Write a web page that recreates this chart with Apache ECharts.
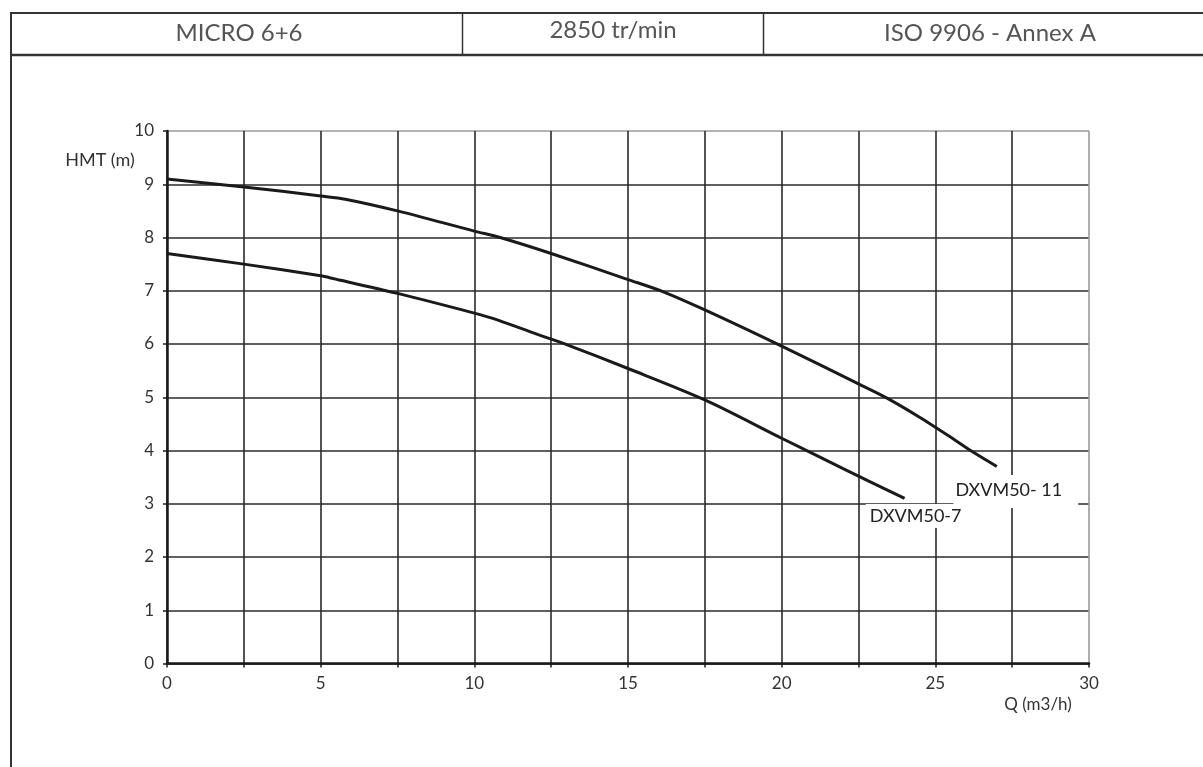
<!DOCTYPE html>
<html>
<head>
<meta charset="utf-8">
<script src="https://cdn.jsdelivr.net/npm/echarts@6/dist/echarts.min.js"></script>
<style>html,body{margin:0;padding:0;background:#fff}#c{width:1203px;height:767px}</style>
</head>
<body>
<div id="c"></div>
<script>
// ---- data ----
const headerTexts = ['MICRO 6+6', '2850 tr/min', 'ISO 9906 - Annex A'];
const seriesNames = ['DXVM50- 11', 'DXVM50-7'];
const q11 = [0, 2.5, 5, 5.8, 7.5, 10, 10.84, 12.5, 15, 16.15, 17.5, 20, 22.5, 23.5, 24.5, 25.5, 26.2, 27];
const h11 = [9.1, 8.95, 8.78, 8.72, 8.5, 8.12, 8.0, 7.7, 7.21, 6.98, 6.64, 5.96, 5.25, 4.96, 4.62, 4.25, 3.98, 3.7];
const q7 = [0, 2.5, 5, 5.4, 7.5, 10, 10.6, 12.5, 13, 15, 17.5, 20, 22, 24];
const h7 = [7.7, 7.5, 7.28, 7.23, 6.95, 6.58, 6.48, 6.09, 5.99, 5.54, 4.95, 4.23, 3.66, 3.1];
const xLabelValues = [0, 5, 10, 15, 20, 25, 30];
const yAxisName = 'HMT (m)';
const xAxisName = 'Q (m3/h)';

const FONT = 'Lato, "Noto Sans", sans-serif';
const chart = echarts.init(document.getElementById('c'), null, {renderer: 'canvas'});

function pairs(xs, ys) { return xs.map((x, i) => [x, ys[i]]); }

const yColors = []; for (let i = 0; i <= 10; i++) yColors.push(i === 10 ? '#9a9a9a' : '#2a2a2a');
const xColors = []; for (let i = 0; i <= 12; i++) xColors.push(i === 12 ? '#9a9a9a' : '#2a2a2a');

function lineSeries(name, xs, ys, offset, padding) {
  return {
    name: name, type: 'line', smooth: 0.3, showSymbol: false, symbol: 'none',
    lineStyle: {color: '#1a1a1a', width: 3}, z: 3,
    data: pairs(xs, ys),
    markPoint: {
      z: 10, silent: true, symbol: 'circle', symbolSize: 1,
      itemStyle: {color: 'rgba(0,0,0,0)'},
      data: [{coord: [xs[xs.length - 1], ys[ys.length - 1]]}],
      label: {
        show: true, position: 'bottom', offset: offset, formatter: name,
        fontFamily: FONT, fontSize: 18, color: '#222',
        backgroundColor: '#ffffff', padding: padding
      }
    }
  };
}

const option = {
  animation: false,
  backgroundColor: '#fff',
  grid: {left: 167, right: 114, top: 131, bottom: 103.5, containLabel: false},
  xAxis: {
    type: 'value', min: 0, max: 30, interval: 2.5,
    axisLine: {show: true, onZero: false, lineStyle: {color: '#1a1a1a', width: 2.5}},
    axisTick: {show: true, length: 4, lineStyle: {color: '#1a1a1a', width: 1.5}},
    axisLabel: {
      fontFamily: FONT, fontSize: 17, color: '#333', margin: 12,
      formatter: v => xLabelValues.indexOf(v) >= 0 ? String(v) : ''
    },
    splitLine: {show: true, lineStyle: {color: xColors, width: 1.6}}
  },
  yAxis: {
    type: 'value', min: 0, max: 10, interval: 1,
    axisLine: {show: true, onZero: false, lineStyle: {color: '#1a1a1a', width: 2.5}},
    axisTick: {show: true, length: 4, lineStyle: {color: '#1a1a1a', width: 1.5}},
    axisLabel: {fontFamily: FONT, fontSize: 17, color: '#333', margin: 13},
    splitLine: {show: true, lineStyle: {color: yColors, width: 1.6}}
  },
  series: [
    lineSeries(seriesNames[0], q11, h11, [19, 3], [6, 16, 9, 2]),
    lineSeries(seriesNames[1], q7, h7, [11, 0], [3, 4, 3, 4])
  ],
  graphic: [
    {type: 'line', shape: {x1: 11, y1: 13, x2: 1203, y2: 13}, style: {stroke: '#333', lineWidth: 2}},
    {type: 'line', shape: {x1: 11, y1: 55, x2: 1203, y2: 55}, style: {stroke: '#333', lineWidth: 2.5}},
    {type: 'line', shape: {x1: 11, y1: 12, x2: 11, y2: 767}, style: {stroke: '#333', lineWidth: 2}},
    {type: 'line', shape: {x1: 462.5, y1: 13, x2: 462.5, y2: 55}, style: {stroke: '#333', lineWidth: 1.5}},
    {type: 'line', shape: {x1: 763.5, y1: 13, x2: 763.5, y2: 55}, style: {stroke: '#333', lineWidth: 1.5}},
    {type: 'text', x: 239, y: 33, style: {text: headerTexts[0], fontFamily: FONT, fontSize: 24, fill: '#555', align: 'center', verticalAlign: 'middle'}},
    {type: 'text', x: 613, y: 30, style: {text: headerTexts[1], fontFamily: FONT, fontSize: 24, fill: '#555', align: 'center', verticalAlign: 'middle'}},
    {type: 'text', x: 990, y: 33, style: {text: headerTexts[2], fontFamily: FONT, fontSize: 24, fill: '#555', align: 'center', verticalAlign: 'middle'}},
    {type: 'text', x: 100, y: 160, style: {text: yAxisName, fontFamily: FONT, fontSize: 18, fill: '#333', align: 'center', verticalAlign: 'middle'}},
    {type: 'text', x: 1038, y: 705, style: {text: xAxisName, fontFamily: FONT, fontSize: 17, fill: '#333', align: 'center', verticalAlign: 'middle'}}
  ]
};
chart.setOption(option);
</script>
</body>
</html>
